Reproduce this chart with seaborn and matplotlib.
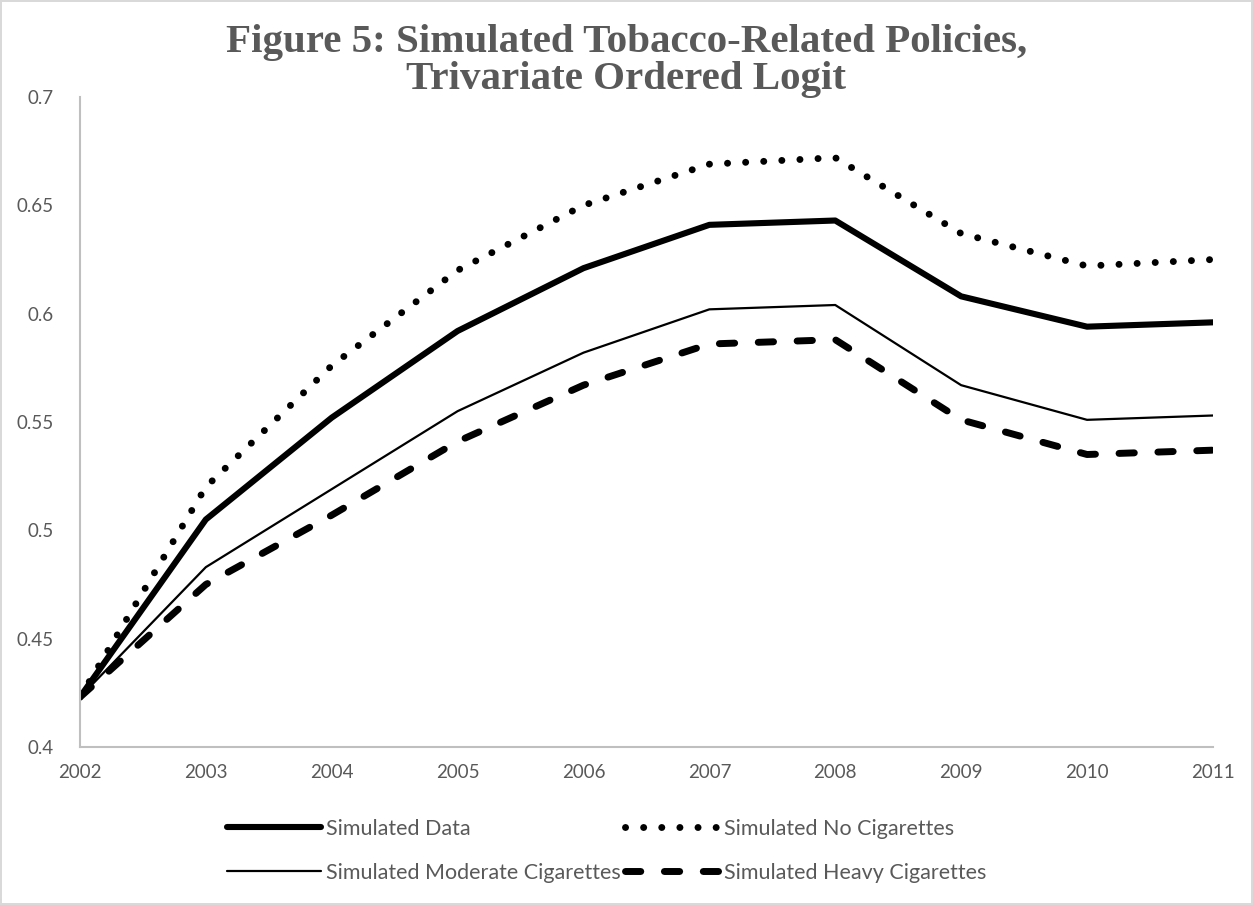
import matplotlib
matplotlib.use("Agg")
import matplotlib.pyplot as plt
import seaborn as sns
import pandas as pd

years = [2002, 2003, 2004, 2005, 2006, 2007, 2008, 2009, 2010, 2011]
simulated_data = [0.423, 0.505, 0.552, 0.592, 0.621, 0.641, 0.643, 0.608, 0.594, 0.596]
no_cigarettes = [0.423, 0.520, 0.576, 0.620, 0.650, 0.669, 0.672, 0.637, 0.622, 0.625]
moderate_cigarettes = [0.423, 0.483, 0.519, 0.555, 0.582, 0.602, 0.604, 0.567, 0.551, 0.553]
heavy_cigarettes = [0.423, 0.475, 0.507, 0.541, 0.567, 0.586, 0.588, 0.551, 0.535, 0.537]
y_ticks = [0.4, 0.45, 0.5, 0.55, 0.6, 0.65, 0.7]
y_tick_labels = ["0.4", "0.45", "0.5", "0.55", "0.6", "0.65", "0.7"]

series = {
    "Simulated Data": simulated_data,
    "Simulated No Cigarettes": no_cigarettes,
    "Simulated Moderate Cigarettes": moderate_cigarettes,
    "Simulated Heavy Cigarettes": heavy_cigarettes,
}
styles = {
    "Simulated Data": dict(lw=4.4, ls="-", solid_capstyle="round"),
    "Simulated No Cigarettes": dict(lw=5.0, ls=(0, (0.01, 2.6)), dash_capstyle="round"),
    "Simulated Moderate Cigarettes": dict(lw=1.6, ls="-"),
    "Simulated Heavy Cigarettes": dict(lw=5.0, ls=(0, (2.2, 3.4)), dash_capstyle="round"),
}

sns.set_theme(style="white")
plt.rcParams["font.family"] = ["Lato", "DejaVu Sans"]

grey = "#595959"
fig = plt.figure(figsize=(12.53, 9.05), dpi=100)
fig.patch.set_edgecolor("#d9d9d9")
fig.patch.set_linewidth(1.5)
ax = fig.add_axes([0.0638, 0.1746, 0.9042, 0.7182])

for name, values in series.items():
    df = pd.DataFrame({"year": years, "value": values})
    sns.lineplot(data=df, x="year", y="value", ax=ax, color="black",
                 label=name, legend=False, **styles[name])

ax.set_xlim(years[0], years[-1])
ax.set_ylim(0.4, 0.7)
ax.set_xticks(years)
ax.set_xticklabels([str(y) for y in years])
ax.set_yticks(y_ticks)
ax.set_yticklabels(y_tick_labels)
ax.tick_params(axis="both", length=0, labelsize=13.5, labelcolor=grey)
ax.tick_params(axis="x", pad=12)
ax.tick_params(axis="y", pad=19)
ax.set_xlabel("")
ax.set_ylabel("")
for side in ["top", "right"]:
    ax.spines[side].set_visible(False)
for side in ["left", "bottom"]:
    ax.spines[side].set_color("#bfbfbf")
    ax.spines[side].set_linewidth(1.5)

fig.text(0.5, 0.974, "Figure 5: Simulated Tobacco-Related Policies,\nTrivariate Ordered Logit",
         ha="center", va="top", fontsize=29.5, fontweight="bold", color=grey,
         family=["Liberation Serif", "DejaVu Serif"], linespacing=1.02)

# legend laid out row by row: matplotlib fills columns first, so interleave
handles, labels = ax.get_legend_handles_labels()
order = [0, 2, 1, 3]
leg = fig.legend([handles[i] for i in order], [labels[i] for i in order],
                 loc="center", bbox_to_anchor=(0.484, 0.060),
                 ncol=2, frameon=False, fontsize=15.5, handlelength=4.4,
                 handletextpad=0.2, columnspacing=0.2, labelspacing=1.1,
                 labelcolor=grey)

fig.savefig("out.png", dpi=100)
